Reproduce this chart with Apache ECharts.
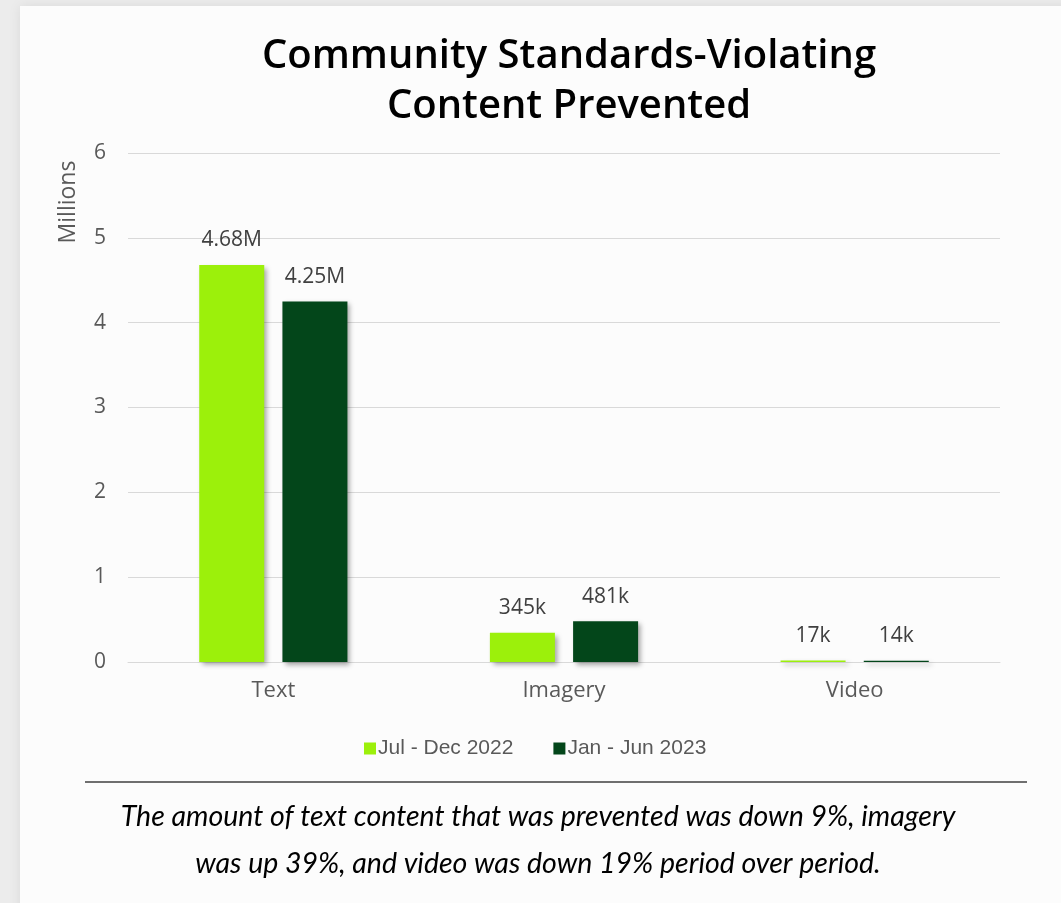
<!DOCTYPE html>
<html>
<head>
<meta charset="utf-8">
<script src="https://cdn.jsdelivr.net/npm/echarts@6/dist/echarts.min.js"></script>
<style>
html,body{margin:0;padding:0;background:#ececec;}
#chart{width:1061px;height:903px;}
</style>
</head>
<body>
<div id="chart"></div>
<script>
const categories = ['Text', 'Imagery', 'Video'];
const seriesNames = ['Jul - Dec 2022', 'Jan - Jun 2023'];
const julDec2022 = [4.68, 0.345, 0.017];
const janJun2023 = [4.25, 0.481, 0.014];
const julDec2022Labels = ['4.68M', '345k', '17k'];
const janJun2023Labels = ['4.25M', '481k', '14k'];
const yTicks = [0, 1, 2, 3, 4, 5, 6];
const titleText = 'Community Standards-Violating\nContent Prevented';
const yAxisTitle = 'Millions';
const footnote = 'The amount of text content that was prevented was down 9%, imagery\nwas up 39%, and video was down 19% period over period.';

const colors = ['#9cf00b', '#03461a'];
const chart = echarts.init(document.getElementById('chart'));

function barSeries(name, data, labels, color) {
  return {
    name: name,
    type: 'bar',
    data: data,
    barWidth: 65,
    barGap: '28%',
    itemStyle: {
      color: color,
      shadowColor: 'rgba(0,0,0,0.35)',
      shadowBlur: 5,
      shadowOffsetX: 3,
      shadowOffsetY: 3
    },
    label: {
      show: true,
      position: 'top',
      distance: 14,
      fontFamily: 'Open Sans',
      fontSize: 21,
      color: '#404040',
      formatter: p => labels[p.dataIndex]
    }
  };
}

chart.setOption({
  backgroundColor: '#ececec',
  animation: false,
  title: {
    text: titleText,
    left: 564,
    top: 27,
    textAlign: 'center',
    textStyle: {
      fontFamily: 'Open Sans',
      fontWeight: 600,
      fontSize: 40,
      lineHeight: 50,
      color: '#000000'
    }
  },
  legend: {
    data: seriesNames,
    left: 359,
    top: 733,
    itemWidth: 12,
    itemHeight: 12,
    itemGap: 40,
    icon: 'rect',
    textStyle: {
      fontFamily: 'Liberation Sans',
      fontSize: 21,
      color: '#595959',
      padding: [0, 0, 0, -3]
    }
  },
  grid: {
    left: 128,
    right: 61,
    top: 153,
    bottom: 241
  },
  xAxis: {
    type: 'category',
    data: categories,
    axisLine: { lineStyle: { color: '#d9d9d9', width: 1 } },
    axisTick: { show: false },
    axisLabel: {
      margin: 18,
      fontFamily: 'Open Sans',
      fontSize: 22,
      color: '#595959'
    }
  },
  yAxis: {
    type: 'value',
    min: yTicks[0],
    max: yTicks[yTicks.length - 1],
    interval: 1,
    axisLine: { show: false },
    axisTick: { show: false },
    splitLine: { lineStyle: { color: '#d9d9d9', width: 1 } },
    axisLabel: {
      margin: 22,
      fontFamily: 'Open Sans',
      fontSize: 21,
      color: '#595959'
    }
  },
  series: [
    barSeries(seriesNames[0], julDec2022, julDec2022Labels, colors[0]),
    barSeries(seriesNames[1], janJun2023, janJun2023Labels, colors[1])
  ],
  graphic: [
    {
      type: 'rect',
      z: -10,
      silent: true,
      shape: { x: 20, y: 6, width: 1060, height: 920 },
      style: { fill: '#fcfcfc', shadowColor: 'rgba(0,0,0,0.08)', shadowBlur: 12 }
    },
    {
      type: 'text',
      x: 68,
      y: 202,
      rotation: Math.PI / 2,
      style: {
        text: yAxisTitle,
        fontFamily: 'Open Sans',
        fontSize: 23,
        fill: '#595959',
        align: 'center',
        verticalAlign: 'middle'
      }
    },
    {
      type: 'line',
      shape: { x1: 85, y1: 782, x2: 1027, y2: 782 },
      style: { stroke: '#404040', lineWidth: 1.5 }
    },
    {
      type: 'text',
      x: 538,
      y: 840,
      style: {
        text: footnote,
        fontFamily: 'Lato',
        fontStyle: 'italic',
        fontSize: 28.5,
        lineHeight: 47,
        fill: '#000000',
        align: 'center',
        verticalAlign: 'middle'
      }
    }
  ]
});
</script>
</body>
</html>
